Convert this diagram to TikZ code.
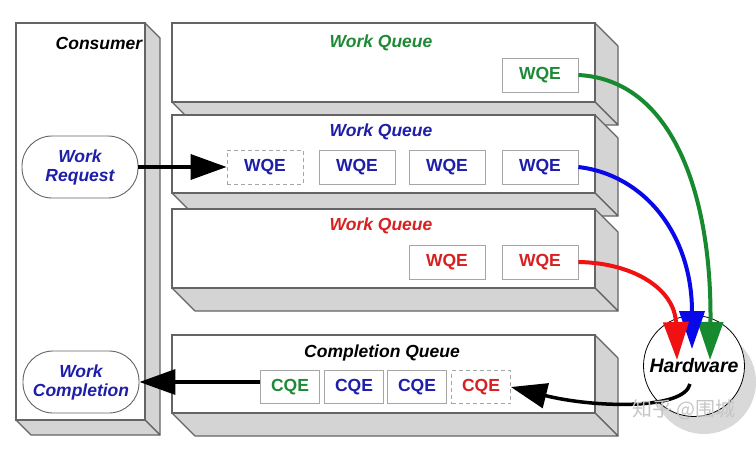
\documentclass[tikz,border=0pt]{standalone}
\usepackage{fontspec}
\setmainfont{Liberation Sans}
\newfontfamily\cjk{Noto Sans CJK SC}
\usetikzlibrary{arrows.meta}
\definecolor{qgreen}{HTML}{1E8A36}
\definecolor{qblue}{HTML}{1E1EA8}
\definecolor{qred}{HTML}{D82020}
\definecolor{agreen}{HTML}{178A30}
\definecolor{ablue}{HTML}{0808E8}
\definecolor{ared}{HTML}{F01212}
\definecolor{edge}{HTML}{646464}
\definecolor{sideface}{HTML}{D4D4D4}
\newcommand\qbox[5]{%
  \filldraw[face] (#3,#2) -- (#3+#5,#2+#5) -- (#3+#5,#4+#5) -- (#3,#4) -- cycle;
  \filldraw[face] (#1,#4) -- (#3,#4) -- (#3+#5,#4+#5) -- (#1+#5,#4+#5) -- cycle;
  \filldraw[front] (#1,#2) rectangle (#3,#4);}
\tikzset{
  face/.style={draw=edge, line width=1.1pt, fill=sideface, line join=round},
  front/.style={draw=edge, line width=1.1pt, fill=white},
  lbl/.style={font=\fontsize{17.5}{19}\selectfont\bfseries\itshape},
  qe/.style={draw=gray!70, line width=0.8pt, fill=white, inner sep=0pt,
    minimum width=76pt, minimum height=34pt, font=\fontsize{17.5}{19}\selectfont\bfseries},
  ce/.style={qe, minimum width=59pt, minimum height=33pt},
  dq/.style={dash pattern=on 4pt off 3pt},
  pill/.style={draw=edge, line width=0.9pt, fill=white, rounded corners=30pt,
    minimum width=116pt, minimum height=62pt, align=center, inner sep=0pt,
    font=\fontsize{17.5}{19}\selectfont\bfseries\itshape, text=qblue},
  bigarrow/.style={line width=3.5pt, -{Triangle[length=36pt,width=25pt]}},
}
\begin{document}
\begin{tikzpicture}[x=1pt,y=-1pt]
\useasboundingbox (0,0) rectangle (756,455);
\fill[white] (0,0) rectangle (756,455);
% consumer
\qbox{16}{23}{145}{420}{15}
% queues
\qbox{172}{23}{595}{102}{23}
\qbox{172}{115}{595}{193}{23}
\qbox{172}{209}{595}{288}{23}
\qbox{172}{335}{595}{413}{23}
% labels
\node[lbl] (cons) at (99,43) {Consumer};
\node[lbl, text=qgreen] (wq1) at (381,43) {Work Queue};
\node[lbl, text=qblue] (wq2) at (381,132) {Work Queue};
\node[lbl, text=qred] (wq3) at (381,226) {Work Queue};
\node[lbl] (cq) at (382,353) {Completion Queue};
% consumer items
\node[pill] (wr) at (80,167) {Work\\Request};
\node[pill] (wc) at (81,382) {Work\\Completion};
% WQEs
\node[qe, text=qgreen] (g1) at (540,75) {WQE};
\node[qe, dq, text=qblue] (b1) at (265,167) {WQE};
\node[qe, text=qblue] (b2) at (357,167) {WQE};
\node[qe, text=qblue] (b3) at (447,167) {WQE};
\node[qe, text=qblue] (b4) at (540,167) {WQE};
\node[qe, text=qred] (r1) at (447,262) {WQE};
\node[qe, text=qred] (r2) at (540,262) {WQE};
% CQEs
\node[ce, text=qgreen] (c1) at (290,387) {CQE};
\node[ce, text=qblue] (c2) at (354,387) {CQE};
\node[ce, text=qblue] (c3) at (417,387) {CQE};
\node[ce, dq, text=qred] (c4) at (481,387) {CQE};
% hardware
\fill[gray!30] (704,382) circle (52);
\node[circle, draw=black, line width=0.8pt, fill=white, minimum size=101pt, inner sep=0pt,
  font=\fontsize{19.5}{21}\selectfont\bfseries\itshape] (hw) at (694,366) {Hardware};
\coordinate (rt) at (677,360);
\coordinate (bt) at (692,349);
\coordinate (gt) at (710,360);
\coordinate (hwout) at (690,384);
% arrows
\draw[bigarrow] (wr.east) -- (b1.west);
\draw[bigarrow] ([yshift=5pt]c1.west) -- (wc.east);
\draw[bigarrow, line width=4pt, draw=agreen, -{Triangle[length=38pt,width=25pt,fill=agreen]}]
  (g1.east) .. controls (675,80) and (712,200) .. (gt);
\draw[bigarrow, line width=4pt, draw=ablue, -{Triangle[length=38pt,width=25pt,fill=ablue]}]
  (b4.east) .. controls (645,175) and (692,235) .. (bt);
\draw[bigarrow, line width=4pt, draw=ared, -{Triangle[length=38pt,width=25pt,fill=ared]}]
  (r2.east) .. controls (635,263) and (675,290) .. (rt);
\draw[bigarrow] (hwout) .. controls (684,410) and (595,408) .. (c4.east);
% watermark
\node[text=gray!45, font=\cjk\fontsize{20}{20}\selectfont] (wm) at (684,410) {知乎 @围城};
\end{tikzpicture}
\end{document}
